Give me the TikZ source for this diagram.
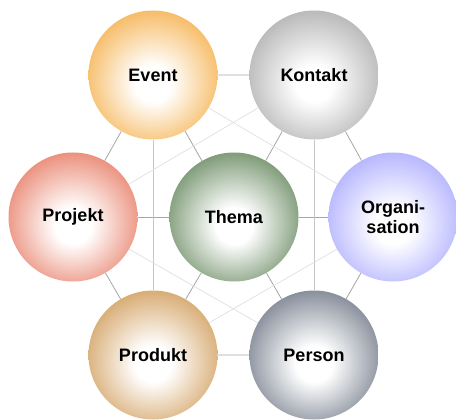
\documentclass[tikz,border=0pt]{standalone}
\usepackage{fontspec}
\setmainfont{Liberation Sans}
\usetikzlibrary{backgrounds}

\definecolor{eventorange}{RGB}{245,178,80}
\definecolor{kontaktgray}{RGB}{175,175,175}
\definecolor{projektred}{RGB}{232,128,106}
\definecolor{themagreen}{RGB}{108,140,100}
\definecolor{orgblue}{RGB}{172,172,255}
\definecolor{produktbrown}{RGB}{210,160,96}
\definecolor{personslate}{RGB}{118,126,140}

\colorlet{rimcol}{gray}
\pgfdeclareradialshading[rimcol]{bubble}{\pgfpoint{0bp}{-4bp}}{color(0bp)=(white);color(7bp)=(white);color(30bp)=(rimcol);color(50bp)=(rimcol)}

\tikzset{
	topic/.style={circle, minimum size=129pt, inner sep=0pt, align=center, font=\bfseries\fontsize{18}{20}\selectfont, /utils/exec={\colorlet{rimcol}{#1}}, shading=bubble},
	edge/.style={draw=gray!70, line width=0.8pt},
	cross/.style={draw=gray!45, line width=0.7pt},
	faint/.style={draw=gray!25, line width=0.7pt}
}

\begin{document}
\begin{tikzpicture}[x=1pt, y=-1pt]
	\useasboundingbox (0,0) rectangle (456,420);
	\node[topic=eventorange](event) at (153,75){Event};
	\node[topic=kontaktgray](kontakt) at (314,75){Kontakt};
	\node[topic=projektred](projekt) at (73,217){Projekt};
	\node[topic=themagreen](thema) at (234,217){Thema};
	\node[topic=orgblue](org) at (393,217){Organi-\\sation};
	\node[topic=produktbrown](produkt) at (153,355){Produkt};
	\node[topic=personslate](person) at (314,355){Person};
	\begin{scope}[on background layer]
		% outer ring
		\draw[edge](event) -- (kontakt) -- (org) -- (person) -- (produkt) -- (projekt) -- (event);
		% spokes
		\foreach \n in {event, kontakt, org, person, produkt, projekt}
			\draw[edge](thema) -- (\n);
		% second neighbours
		\draw[cross](event) -- (produkt);
		\draw[cross](kontakt) -- (person);
		\draw[faint](event) -- (org);
		\draw[faint](kontakt) -- (projekt);
		\draw[faint](projekt) -- (person);
		\draw[faint](produkt) -- (org);
	\end{scope}
\end{tikzpicture}
\end{document}
